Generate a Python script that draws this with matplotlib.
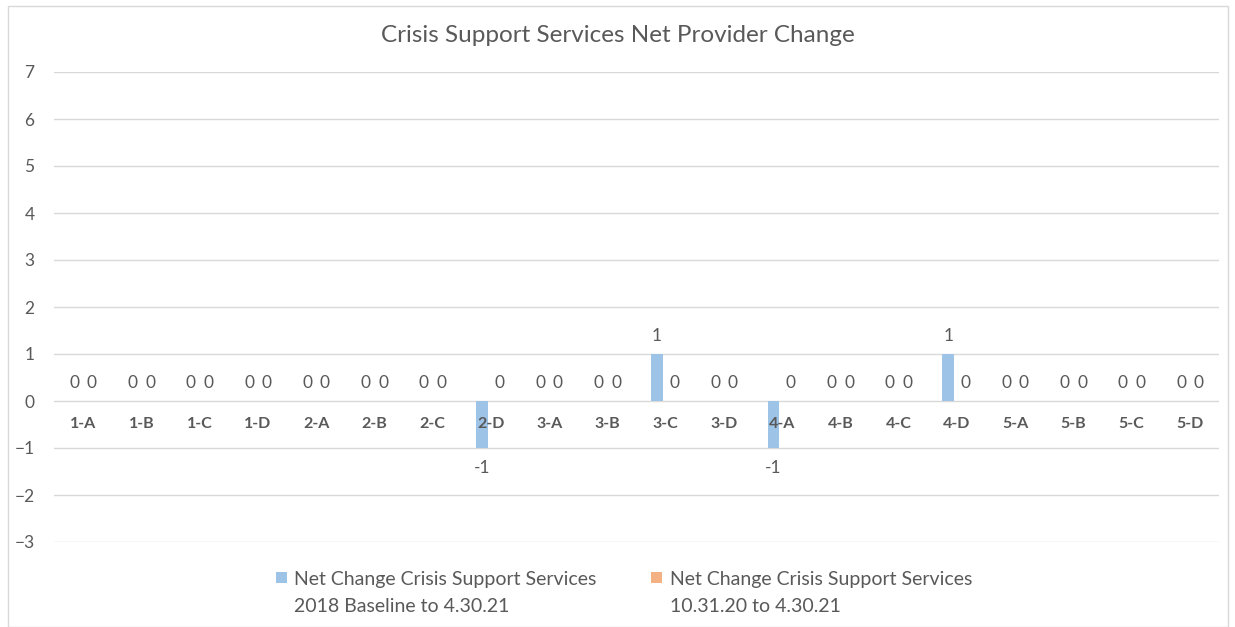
import numpy as np
import matplotlib.pyplot as plt
from matplotlib.patches import Rectangle

categories = ['1-A', '1-B', '1-C', '1-D', '2-A', '2-B', '2-C', '2-D', '3-A', '3-B',
              '3-C', '3-D', '4-A', '4-B', '4-C', '4-D', '5-A', '5-B', '5-C', '5-D']
baseline_change = [0, 0, 0, 0, 0, 0, 0, -1, 0, 0, 1, 0, -1, 0, 0, 1, 0, 0, 0, 0]
recent_change = [0] * 20
series_line1 = ['Net Change Crisis Support Services', 'Net Change Crisis Support Services']
series_line2 = ['2018 Baseline to 4.30.21', '10.31.20 to 4.30.21']

plt.rcParams['font.family'] = ['Lato', 'DejaVu Sans']
gray = '#595959'
W, H = 1235, 627

fig = plt.figure(figsize=(12.35, 6.27), dpi=100)
ax = fig.add_axes([54/W, 1-542/H, 1165/W, 470/H])

x = np.arange(len(categories))
w = 0.2
off = 0.15
b1 = ax.bar(x - off, baseline_change, w, color='#9dc3e6', zorder=3, label=series_line1[0])
b2 = ax.bar(x + off, recent_change, w, color='#f4b183', zorder=3, label=series_line1[1])

for bars, vals in [(b1, baseline_change), (b2, recent_change)]:
    for r, v in zip(bars, vals):
        cx = r.get_x() + r.get_width()/2
        y = v + 0.38 if v >= 0 else v - 0.42
        ax.text(cx, y, str(v), ha='center', va='center', fontsize=12.5, color=gray)

for i, c in enumerate(categories):
    ax.text(i, -0.49, c, ha='center', va='center', fontsize=11.5,
            fontweight='bold', color=gray, zorder=4)

ax.set_xlim(-0.5, len(categories) - 0.5)
ax.set_ylim(-3, 7)
ax.set_yticks(range(-3, 8))
ax.set_xticks([])
ax.tick_params(axis='y', length=0, labelsize=12.5, labelcolor=gray, pad=14)
ax.grid(axis='y', color='#d9d9d9', linewidth=1, zorder=0)
for s in ax.spines.values():
    s.set_visible(False)

fig.text(0.5, 1-35/H, 'Crisis Support Services Net Provider Change',
         ha='center', va='center', fontsize=17.5, color=gray)

leg = fig.legend(handles=[b1, b2], loc='center', bbox_to_anchor=(624/W, 1-579/H),
                 ncol=2, frameon=False, fontsize=14, labelcolor=gray,
                 handlelength=0.55, handleheight=0.55, handletextpad=0.4,
                 columnspacing=2.8, borderpad=0)
fig.canvas.draw()
for t, s in zip(leg.get_texts(), series_line2):
    bb = t.get_window_extent()
    fig.text(bb.x0/W, (bb.y0 - 27)/H, s, ha='left', va='bottom',
             fontsize=14, color=gray)

fig.patches.append(Rectangle((8/W, 0), 1220/W, 1-6/H, transform=fig.transFigure,
                             fill=False, edgecolor='#d9d9d9', linewidth=1))

plt.savefig('out.png', dpi=100)
